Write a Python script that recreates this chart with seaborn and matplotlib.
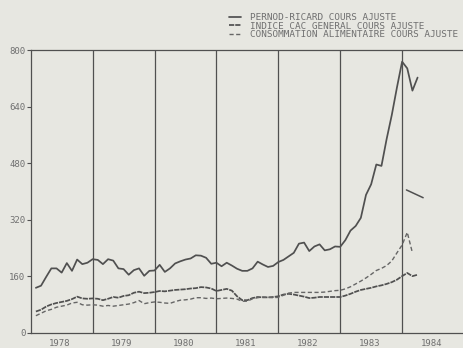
import numpy as np
import pandas as pd
import matplotlib
matplotlib.use("Agg")
import matplotlib.pyplot as plt
import seaborn as sns

# ---------------- data ----------------
month_index = list(range(1, 76))          # months since Jan 1978

pernod = [127, 133, 158, 182, 182, 170, 197, 175, 207, 194,
          198, 208, 206, 194, 208, 204, 182, 180, 164, 177,
          182, 161, 175, 176, 192, 172, 182, 196, 202, 207,
          210, 219, 218, 212, 195, 198, 188, 198, 190, 181,
          175, 175, 182, 201, 193, 186, 189, 200, 206, 216,
          226, 252, 255, 231, 244, 250, 233, 236, 244, 243,
          262, 289, 302, 325, 390, 420, 476, 472, 548, 616,
          694, 767, 748, 685, 722]

cac = [60, 65, 74, 80, 84, 87, 90, 95, 102, 97,
       96, 97, 96, 92, 96, 101, 99, 104, 106, 113,
       116, 112, 113, 115, 118, 117, 119, 121, 122, 123,
       125, 126, 129, 128, 125, 118, 121, 124, 119, 103,
       92, 92, 98, 101, 100, 100, 101, 103, 108, 110,
       108, 105, 102, 98, 99, 101, 101, 101, 101, 101,
       105, 110, 116, 121, 124, 127, 131, 134, 138, 143,
       150, 160, 169, 160, 164]

conso = [48, 55, 62, 66, 72, 75, 78, 84, 86, 79,
         78, 79, 78, 75, 77, 75, 77, 79, 81, 85,
         91, 82, 85, 87, 86, 84, 83, 88, 92, 93,
         95, 99, 99, 97, 98, 96, 97, 98, 97, 95,
         89, 89, 96, 99, 101, 100, 99, 100, 106, 112,
         114, 114, 114, 114, 114, 114, 115, 117, 119, 120,
         124, 130, 138, 146, 155, 165, 176, 182, 190, 203,
         226, 248, 284, 226]

# isolated stroke visible at the top right of the plot (early 1984)
frag_years = [1984.07, 1984.34]
frag_values = [404, 382]

year_labels = ["1978", "1979", "1980", "1981", "1982", "1983", "1984"]
year_bounds = [1979, 1980, 1981, 1982, 1983, 1984]
y_ticks = [0, 160, 320, 480, 640, 800]
y_labels = ["0", "160", "320", "480", "640", "800"]
series_labels = ["PERNOD-RICARD COURS AJUSTE",
                 "INDICE CAC GENERAL COURS AJUSTE",
                 "CONSOMMATION ALIMENTAIRE COURS AJUSTE"]

# ---------------- style ----------------
bg = "#e7e7e1"
ink = "#505050"
txt = "#707070"

sns.set_theme(style="white")
plt.rcParams["font.family"] = ["DejaVu Sans Mono", "DejaVu Sans"]
plt.rcParams["axes.facecolor"] = bg
plt.rcParams["figure.facecolor"] = bg

fig = plt.figure(figsize=(4.64, 3.48), dpi=100)
ax = fig.add_axes([0.0662, 0.044, 0.9338, 0.8123])
ax.set_facecolor(bg)

dates = 1978 + np.array(month_index) / 12.0

df_p = pd.DataFrame({"date": dates, "value": pernod})
df_c = pd.DataFrame({"date": dates, "value": cac})
df_a = pd.DataFrame({"date": dates[:len(conso)], "value": conso})
df_f = pd.DataFrame({"date": frag_years, "value": frag_values})

sns.lineplot(data=df_p, x="date", y="value", ax=ax, color=ink, lw=1.25,
             label=series_labels[0], sort=False)
sns.lineplot(data=df_c, x="date", y="value", ax=ax, color=ink, lw=1.25,
             linestyle=(0, (3, 0.6)), label=series_labels[1], sort=False)
sns.lineplot(data=df_a, x="date", y="value", ax=ax, color="#666666", lw=1.0,
             linestyle=(0, (3, 1.8)), label=series_labels[2], sort=False)
sns.lineplot(data=df_f, x="date", y="value", ax=ax, color=ink, lw=1.1,
             sort=False, legend=False)

ax.set_xlim(1978, 1985)
ax.set_ylim(0, 800)

# vertical year boundaries
ax.set_xticks(year_bounds)
ax.set_xticklabels([""] * len(year_bounds))
ax.xaxis.grid(True, color=ink, lw=0.9)
ax.yaxis.grid(False)
ax.set_xticks([y + 0.47 for y in range(1978, 1985)], minor=True)
ax.set_xticklabels(year_labels, minor=True)
ax.tick_params(axis="x", which="both", length=0, pad=4.5,
               labelsize=6.5, labelcolor=txt)

ax.set_yticks(y_ticks)
ax.set_yticklabels(y_labels)
ax.tick_params(axis="y", length=3, width=0.8, color=ink, pad=0.8,
               labelsize=6.5, labelcolor=txt, left=True)

for s in ["left", "top", "bottom"]:
    ax.spines[s].set_visible(True)
    ax.spines[s].set_color(ink)
    ax.spines[s].set_linewidth(0.9)
ax.spines["right"].set_visible(False)

ax.set_xlabel("")
ax.set_ylabel("")

handles, labels = ax.get_legend_handles_labels()
if ax.get_legend() is not None:
    ax.get_legend().remove()
fig.legend(handles, labels, loc="upper left",
           bbox_to_anchor=(229 / 464, 1 - 13 / 348),
           frameon=False, fontsize=6.75, handlelength=1.25,
           handletextpad=1.0, labelspacing=-0.05, borderpad=0,
           borderaxespad=0, labelcolor=txt)

fig.savefig("out.png", dpi=100, facecolor=bg)
